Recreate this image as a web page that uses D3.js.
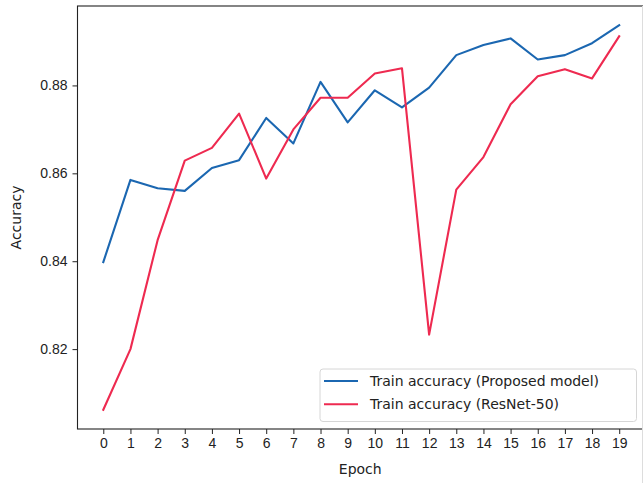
<!DOCTYPE html>
<html>
<head>
<meta charset="utf-8">
<script src="https://cdn.jsdelivr.net/npm/d3@7"></script>
<style>
  body { margin: 0; background: #fff; }
  svg { display: block; font-family: "DejaVu Sans", sans-serif; }
  .axis text { fill: #222; font-size: 14px; }
  .axis path, .axis line { stroke: #222; }
</style>
</head>
<body>
<div id="chart"></div>
<script>
// epochs on the x axis
var epochs = d3.range(0, 20);

// Train accuracy (Proposed model)
var proposed = [0.8398, 0.8585, 0.8566, 0.8560, 0.8612, 0.8630, 0.8726, 0.8668, 0.8808, 0.8716,
                0.8789, 0.8750, 0.8795, 0.8869, 0.8892, 0.8907, 0.8859, 0.8869, 0.8896, 0.8937];

// Train accuracy (ResNet-50)
var resnet = [0.8062, 0.8200, 0.8448, 0.8629, 0.8658, 0.8736, 0.8588, 0.8700, 0.8772, 0.8772,
              0.8827, 0.8839, 0.8233, 0.8563, 0.8637, 0.8757, 0.8821, 0.8837, 0.8816, 0.8912];

var yTicks = [0.82, 0.84, 0.86, 0.88];

var seriesNames = ["Train accuracy (Proposed model)", "Train accuracy (ResNet-50)"];
var seriesColors = ["#1b67b1", "#ee2a50"];

var W = 643, H = 483;
var margin = {top: 6, right: -2, bottom: 54, left: 77.5};
var width = W - margin.left - margin.right,
    height = H - margin.top - margin.bottom;

var svg = d3.select("#chart").append("svg")
    .attr("width", W)
    .attr("height", H)
    .append("g")
    .attr("transform", "translate(" + margin.left + "," + margin.top + ")");

// matplotlib-style 5% padding
var xMin = 0, xMax = 19;
var xPad = (xMax - xMin) * 0.05;
var x = d3.scaleLinear()
    .domain([xMin - xPad, xMax + xPad])
    .range([0, width]);

var all = proposed.concat(resnet);
var yLo = d3.min(all), yHi = d3.max(all);
var yPad = (yHi - yLo) * 0.05;
var y = d3.scaleLinear()
    .domain([yLo - yPad, yHi + yPad])
    .range([height, 0]);

// x axis
svg.append("g")
    .attr("class", "axis")
    .attr("transform", "translate(0," + height + ")")
    .call(d3.axisBottom(x).tickValues(epochs).tickFormat(d3.format("d")).tickSize(5).tickPadding(4))
    .call(function(g) { g.select(".domain").remove(); });

// y axis
svg.append("g")
    .attr("class", "axis")
    .call(d3.axisLeft(y).tickValues(yTicks).tickFormat(d3.format(".2f")).tickSize(5).tickPadding(5))
    .call(function(g) { g.select(".domain").remove(); });

// lines
var line = d3.line()
    .x(function(d, i) { return x(epochs[i]); })
    .y(function(d) { return y(d); });

[proposed, resnet].forEach(function(s, i) {
    svg.append("path")
        .datum(s)
        .attr("fill", "none")
        .attr("stroke", seriesColors[i])
        .attr("stroke-width", 2.1)
        .attr("stroke-linejoin", "round")
        .attr("stroke-linecap", "square")
        .attr("d", line);
});

// frame
svg.append("rect")
    .attr("x", 0).attr("y", 0)
    .attr("width", width).attr("height", height)
    .attr("fill", "none")
    .attr("stroke", "#222")
    .attr("stroke-width", 1.1);

// faint image border on the right
d3.select("svg").append("line")
    .attr("x1", 642.5).attr("x2", 642.5)
    .attr("y1", 6).attr("y2", 483)
    .attr("stroke", "#ddd");

// axis labels
svg.append("text")
    .attr("x", width / 2 - 1)
    .attr("y", height + 45)
    .attr("text-anchor", "middle")
    .attr("fill", "#222")
    .style("font-size", "14px")
    .text("Epoch");

svg.append("text")
    .attr("transform", "translate(" + (-57) + "," + (height / 2) + ") rotate(-90)")
    .attr("text-anchor", "middle")
    .attr("fill", "#222")
    .style("font-size", "14px")
    .text("Accuracy");

// legend
var legend = svg.append("g")
    .attr("transform", "translate(" + (320 - margin.left) + "," + (369 - margin.top) + ")");

legend.append("rect")
    .attr("width", 316.5)
    .attr("height", 52.5)
    .attr("rx", 3)
    .attr("fill", "#fff")
    .attr("fill-opacity", 0.8)
    .attr("stroke", "#d6d6d6");

seriesNames.forEach(function(name, i) {
    var ly = 12 + i * 23.3;
    legend.append("line")
        .attr("x1", 4).attr("x2", 38)
        .attr("y1", ly).attr("y2", ly)
        .attr("stroke", seriesColors[i])
        .attr("stroke-width", 2.1);
    legend.append("text")
        .attr("x", 50)
        .attr("y", ly + 5)
        .attr("fill", "#222")
        .style("font-size", "14px")
        .text(name);
});
</script>
</body>
</html>
